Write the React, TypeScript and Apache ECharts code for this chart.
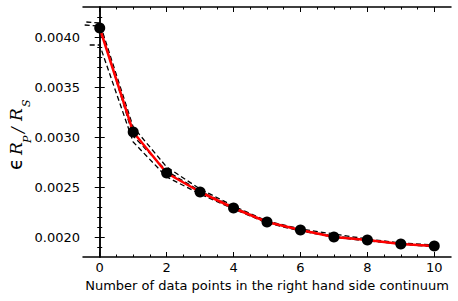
import React, { useEffect, useRef } from "react";
import * as echarts from "echarts";

const xValues = [0, 1, 2, 3, 4, 5, 6, 7, 8, 9, 10];
const mainValues = [0.00409, 0.00305, 0.00264, 0.00245, 0.00229, 0.00215, 0.00207, 0.002, 0.00197, 0.00193, 0.00191];

const dashUpperX = [-0.4, 0, 1, 2, 3, 4, 5, 6, 7, 8, 9, 10];
const dashUpper = [0.00415, 0.00414, 0.0031, 0.0027, 0.00248, 0.00231, 0.00216, 0.00208, 0.00203, 0.00198, 0.00194, 0.00192];
const dashMidX = [-0.45, 0, 1, 2, 3, 4, 5, 6, 7, 8, 9, 10];
const dashMid = [0.00412, 0.00411, 0.00301, 0.00266, 0.00246, 0.0023, 0.00215, 0.00207, 0.00201, 0.00197, 0.00193, 0.00191];
const dashLowerX = [-0.3, 0, 1, 2, 3, 4, 5, 6, 7, 8, 9, 10];
const dashLower = [0.00392, 0.00392, 0.00295, 0.0026, 0.00243, 0.00228, 0.00214, 0.00206, 0.002, 0.00196, 0.00193, 0.0019];

const xMajorTicks = [0, 2, 4, 6, 8, 10];
const xMinorTicks = [0.5, 1, 1.5, 2.5, 3, 3.5, 4.5, 5, 5.5, 6.5, 7, 7.5, 8.5, 9, 9.5];
const yMajorTicks = [0.002, 0.0025, 0.003, 0.0035, 0.004];
const yMinorTicks = [0.0019, 0.0021, 0.0022, 0.0023, 0.0024, 0.0026, 0.0027, 0.0028, 0.0029, 0.0031, 0.0032, 0.0033, 0.0034, 0.0036, 0.0037, 0.0038, 0.0039, 0.0041, 0.0042];

const X_MIN = -0.5;
const X_MAX = 10.5;
const Y_MIN = 0.0018;
const Y_MAX = 0.0043;

const xLabel = "Number of data points in the right hand side continuum";

const FONT = "DejaVu Sans";

function zip(xs: number[], ys: number[]) {
  return xs.map((x, i) => [x, ys[i]]);
}

export default function App() {
  const ref = useRef<HTMLDivElement>(null);
  useEffect(() => {
    if (!ref.current) return;
    const chart = echarts.init(ref.current, undefined, { renderer: "svg" });
    const axisLine = { show: true, lineStyle: { color: "#000", width: 1.5 } };
    const mkX = (position: string, ticks: number[], len: number, labels: boolean, line: boolean) => ({
      type: "value",
      min: X_MIN,
      max: X_MAX,
      position,
      splitLine: { show: false },
      axisLine: line ? axisLine : { show: false },
      axisTick: { show: true, inside: true, length: len, customValues: ticks, lineStyle: { color: "#000", width: 1 } },
      axisLabel: labels
        ? { show: true, customValues: ticks, fontSize: 13, fontFamily: FONT, color: "#000", margin: 4 }
        : { show: false },
    });
    const mkY = (position: string, ticks: number[], len: number, labels: boolean, line: boolean) => ({
      type: "value",
      min: Y_MIN,
      max: Y_MAX,
      position,
      splitLine: { show: false },
      axisLine: line ? axisLine : { show: false },
      axisTick: { show: true, inside: true, length: len, customValues: ticks, lineStyle: { color: "#000", width: 1 } },
      axisLabel: labels
        ? {
            show: true,
            customValues: ticks,
            fontSize: 13,
            fontFamily: FONT,
            color: "#000",
            margin: 3,
            formatter: (v: number) => v.toFixed(4),
          }
        : { show: false },
    });
    const xAxes: any[] = [
      mkX("bottom", xMajorTicks, 5, true, true),
      mkX("bottom", xMinorTicks, 2.5, false, false),
      mkX("top", xMajorTicks, 5, false, true),
      mkX("top", xMinorTicks, 2.5, false, false),
    ];
    xAxes[0].name = xLabel;
    xAxes[0].nameLocation = "middle";
    xAxes[0].nameGap = 20;
    xAxes[0].nameTextStyle = { fontSize: 13, fontFamily: FONT, color: "#000" };
    const yAxes: any[] = [
      mkY("left", yMajorTicks, 5, true, true),
      mkY("left", yMinorTicks, 2.5, false, false),
      mkY("right", yMajorTicks, 5, false, true),
      mkY("right", yMinorTicks, 2.5, false, false),
    ];
    const dashStyle = { color: "#000", width: 1.3, type: [5, 3] as any };
    const labelText = (text: string, x: number, y: number, size: number, italic: boolean, family: string) => ({
      type: "text",
      x,
      y,
      rotation: Math.PI / 2,
      style: {
        text,
        fontSize: size,
        fontStyle: italic ? "italic" : "normal",
        fontFamily: family,
        fill: "#000",
        textAlign: "left",
        textVerticalAlign: "middle",
      },
    });
    chart.setOption({
      animation: false,
      grid: { left: 83, right: 7, top: 7, bottom: 44, containLabel: false },
      xAxis: xAxes,
      yAxis: yAxes,
      series: [
        { type: "line", data: zip(dashUpperX, dashUpper), showSymbol: false, symbol: "none", lineStyle: dashStyle, z: 1 },
        { type: "line", data: zip(dashMidX, dashMid), showSymbol: false, symbol: "none", lineStyle: dashStyle, z: 1 },
        { type: "line", data: zip(dashLowerX, dashLower), showSymbol: false, symbol: "none", lineStyle: dashStyle, z: 1 },
        {
          type: "line",
          data: zip(xValues, mainValues),
          symbol: "circle",
          symbolSize: 11,
          itemStyle: { color: "#000" },
          lineStyle: { color: "#ff0000", width: 2.5 },
          z: 3,
        },
      ],
      graphic: [
        labelText("\u03F5", 15, 170, 19, false, FONT),
        labelText("R", 16, 155, 17, true, "DejaVu Serif"),
        labelText("P", 27, 143, 11, true, "DejaVu Serif"),
        labelText("/", 17, 133, 17, true, "DejaVu Serif"),
        labelText("R", 16, 121, 17, true, "DejaVu Serif"),
        labelText("S", 26, 107, 11, true, "DejaVu Serif"),
      ],
    });
    return () => chart.dispose();
  }, []);
  return <div ref={ref} style={{ position: "absolute", left: 0, top: 0, width: 458, height: 301 }} />;
}
